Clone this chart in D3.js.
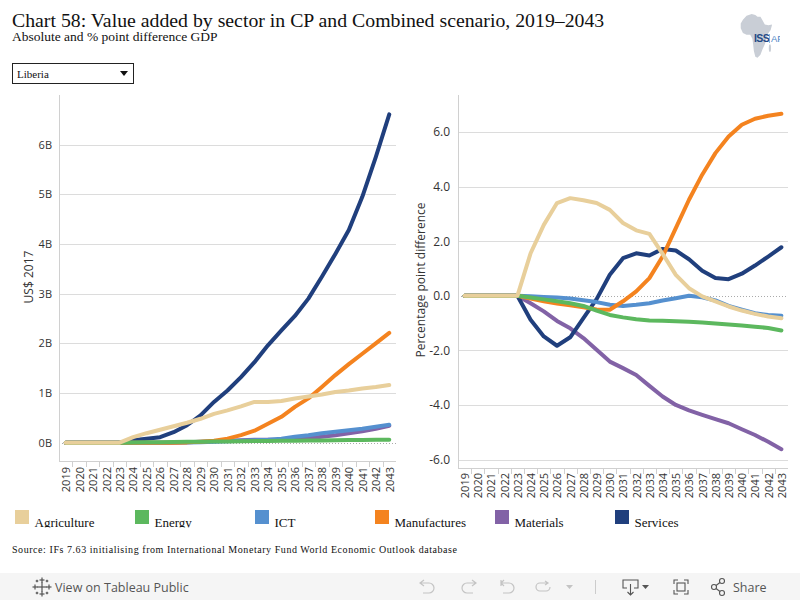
<!DOCTYPE html>
<html>
<head>
<meta charset="utf-8">
<script src="https://cdn.jsdelivr.net/npm/d3@7"></script>
<style>
  html, body { margin: 0; padding: 0; background: #fff; }
  svg { display: block; }
</style>
</head>
<body>
<svg id="chart" width="800" height="600"></svg>
<script>
// ---------------- DATA ----------------
const years = [2019,2020,2021,2022,2023,2024,2025,2026,2027,2028,2029,2030,2031,2032,2033,2034,2035,2036,2037,2038,2039,2040,2041,2042,2043];
const sectors = ["Agriculture","Energy","ICT","Manufactures","Materials","Services"];
const sectorColors = ["#e8cf9b","#5cb85e","#5590cf","#f4831f","#8262a6","#203f7d"];

// Left panel: absolute difference, billion US$ 2017
const absAgriculture  = [0,0,0,0,0,0.11,0.19,0.26,0.33,0.40,0.48,0.58,0.65,0.73,0.82,0.82,0.84,0.89,0.93,0.97,1.02,1.05,1.09,1.12,1.16];
const absEnergy       = [0,0,0,0,0,0.005,0.008,0.01,0.013,0.016,0.019,0.022,0.025,0.028,0.031,0.034,0.036,0.039,0.042,0.045,0.048,0.051,0.054,0.057,0.06];
const absICT          = [0,0,0,0,0,0,0,0,0,0.005,0.01,0.02,0.03,0.04,0.05,0.06,0.08,0.12,0.15,0.19,0.22,0.25,0.28,0.32,0.36];
const absManufactures = [0,0,0,0,0,0,0,0,0,0.005,0.02,0.04,0.08,0.15,0.24,0.38,0.52,0.72,0.89,1.12,1.36,1.58,1.79,2.0,2.21];
const absMaterials    = [0,0,0,0,0,0,0,0,0,0.01,0.02,0.03,0.04,0.05,0.06,0.06,0.06,0.07,0.09,0.12,0.15,0.19,0.23,0.28,0.34];
const absServices     = [0,0,0,0,0,0.05,0.08,0.11,0.21,0.35,0.55,0.82,1.05,1.32,1.62,1.96,2.26,2.55,2.90,3.34,3.80,4.28,4.95,5.75,6.61];

// Right panel: percentage point difference
const ppAgriculture  = [0,0,0,0,0,1.56,2.60,3.40,3.58,3.50,3.40,3.15,2.67,2.40,2.27,1.54,0.77,0.28,-0.02,-0.20,-0.39,-0.54,-0.66,-0.76,-0.82];
const ppEnergy       = [0,0,0,0,0,-0.06,-0.13,-0.20,-0.27,-0.37,-0.54,-0.70,-0.79,-0.86,-0.90,-0.91,-0.93,-0.95,-0.98,-1.01,-1.05,-1.09,-1.13,-1.18,-1.27];
const ppICT          = [0,0,0,0,0,-0.02,-0.04,-0.06,-0.10,-0.16,-0.23,-0.33,-0.37,-0.33,-0.27,-0.17,-0.09,0.0,-0.05,-0.17,-0.37,-0.51,-0.64,-0.70,-0.73];
const ppManufactures = [0,0,0,0,0,-0.10,-0.20,-0.28,-0.35,-0.42,-0.50,-0.51,-0.20,0.16,0.65,1.44,2.48,3.52,4.44,5.23,5.84,6.27,6.49,6.60,6.67];
const ppMaterials    = [0,0,0,0,0,-0.27,-0.57,-0.92,-1.19,-1.55,-1.98,-2.41,-2.65,-2.90,-3.30,-3.69,-4.00,-4.20,-4.36,-4.52,-4.67,-4.89,-5.10,-5.35,-5.62];
const ppServices     = [0,0,0,0,0,-0.88,-1.49,-1.83,-1.52,-0.82,-0.12,0.77,1.38,1.56,1.48,1.72,1.66,1.34,0.92,0.65,0.61,0.81,1.11,1.44,1.78];

const leftTicks  = [0,1,2,3,4,5,6];
const leftTickLabels = ["0B","1B","2B","3B","4B","5B","6B"];
const rightTicks = [-6,-4,-2,0,2,4,6];
const rightTickLabels = ["-6.0","-4.0","-2.0","0.0","2.0","4.0","6.0"];

const absSeries = [absAgriculture, absEnergy, absICT, absManufactures, absMaterials, absServices];
const ppSeries  = [ppAgriculture, ppEnergy, ppICT, ppManufactures, ppMaterials, ppServices];
// draw order (bottom -> top)
const drawOrder = [4, 5, 2, 3, 1, 0];

// ---------------- DRAW ----------------
const svg = d3.select("#chart");
const sansFont = "'Open Sans', 'Noto Sans', sans-serif";
const serifFont = "'Liberation Serif', 'Times New Roman', serif";
const defs = svg.append("defs");

// Title
svg.append("text").attr("x", 12).attr("y", 27)
  .attr("font-family", serifFont).attr("font-size", 19.8).attr("fill", "#111")
  .text("Chart 58: Value added by sector in CP and Combined scenario, 2019–2043");
svg.append("text").attr("x", 12).attr("y", 41)
  .attr("font-family", serifFont).attr("font-size", 13.5).attr("fill", "#111")
  .text("Absolute and % point difference GDP");

// Logo (image area clipped at its right edge like the reference)
defs.append("clipPath").attr("id", "logoclip")
  .append("rect").attr("x", 730).attr("y", 5).attr("width", 50).attr("height", 60);
const logoG = svg.append("g").attr("clip-path", "url(#logoclip)");
const logo = logoG.append("g").attr("transform", "translate(740,13) scale(0.73,0.95)");
logo.append("path")
  .attr("d", "M9,3 L16,1 L21,2 L24,4 L28,4 L31,8 L34,12 L39,13 L44,12 L42,18 L38,22 L36,28 L34,33 L31,38 L28,44 L24,47 L21,46 L19,40 L18,33 L17,27 L14,23 L9,23 L4,21 L1,16 L1,11 L4,7 Z")
  .attr("fill", "#c9ced6");
logo.append("ellipse").attr("cx", 41).attr("cy", 37).attr("rx", 1.5).attr("ry", 4).attr("fill", "#c9ced6");
logoG.append("text").attr("x", 754).attr("y", 42)
  .attr("font-family", "'Liberation Sans', Arial, sans-serif").attr("font-weight", "bold")
  .attr("font-size", 10.5).attr("fill", "#244a86").attr("letter-spacing", -0.6).text("ISS");
logoG.append("line").attr("x1", 769.5).attr("x2", 769.5).attr("y1", 34).attr("y2", 43)
  .attr("stroke", "#6fa0d6").attr("stroke-width", 0.8);
logoG.append("text").attr("x", 771).attr("y", 42)
  .attr("font-family", "'Liberation Sans', Arial, sans-serif")
  .attr("font-size", 9.5).attr("fill", "#4e86c6").text("AFRICA");

// Dropdown
svg.append("rect").attr("x", 12.5).attr("y", 63.5).attr("width", 121).attr("height", 20)
  .attr("fill", "#fff").attr("stroke", "#222").attr("stroke-width", 1);
svg.append("text").attr("x", 17).attr("y", 78)
  .attr("font-family", serifFont).attr("font-size", 11).attr("fill", "#111").text("Liberia");
svg.append("path").attr("d", "M120,71 L128,71 L124,76 Z").attr("fill", "#111");

function panel(cfg) {
  const g = svg.append("g");
  const x = d3.scalePoint().domain(years).range([cfg.x0, cfg.x1]).padding(0.5);
  const y = d3.scaleLinear().domain(cfg.domain).range([cfg.y1, cfg.y0]);
  const step = x.step();

  // gridlines (non-zero)
  g.append("g").selectAll("line").data(cfg.ticks.filter(d => d !== 0)).join("line")
    .attr("x1", cfg.x0).attr("x2", cfg.x1)
    .attr("y1", d => Math.round(y(d)) + 0.5).attr("y2", d => Math.round(y(d)) + 0.5)
    .attr("stroke", "#dcdcdc").attr("stroke-width", 1);

  // zero line dotted
  g.append("line").attr("x1", cfg.x0).attr("x2", cfg.x1)
    .attr("y1", Math.round(y(0)) + 0.5).attr("y2", Math.round(y(0)) + 0.5)
    .attr("stroke", "#aaa").attr("stroke-width", 1).attr("stroke-dasharray", "1,2");

  // axis lines
  g.append("line").attr("x1", cfg.x0 + 0.5).attr("x2", cfg.x0 + 0.5)
    .attr("y1", cfg.y0).attr("y2", cfg.y1).attr("stroke", "#d0d0d0");
  g.append("line").attr("x1", cfg.x0).attr("x2", cfg.x1)
    .attr("y1", cfg.y1 + 0.5).attr("y2", cfg.y1 + 0.5).attr("stroke", "#d0d0d0");

  // y axis labels
  const yAxis = d3.axisLeft(y).tickValues(cfg.ticks)
    .tickFormat((d, i) => cfg.tickLabels[i]).tickSize(0).tickPadding(0);
  const ya = g.append("g").attr("transform", `translate(${cfg.labelX},0)`).call(yAxis);
  ya.select(".domain").remove();
  ya.selectAll("text").attr("font-family", sansFont).attr("font-size", cfg.yFont).attr("fill", "#333");

  // x axis
  const xAxis = d3.axisBottom(x).tickSize(0).tickPadding(0);
  const xa = g.append("g").attr("transform", `translate(0,${cfg.y1})`).call(xAxis);
  xa.select(".domain").remove();
  xa.selectAll("text")
    .attr("font-family", sansFont).attr("font-size", 11).attr("fill", "#333")
    .attr("transform", "rotate(-90)")
    .attr("text-anchor", "end")
    .attr("x", -cfg.xLabelGap).attr("y", 0).attr("dy", "0.35em");
  // tick marks at band boundaries
  g.append("g").selectAll("line").data(years.slice(0, -1)).join("line")
    .attr("x1", d => Math.round(x(d) + step / 2) + 0.5)
    .attr("x2", d => Math.round(x(d) + step / 2) + 0.5)
    .attr("y1", cfg.y1).attr("y2", cfg.y1 + 6)
    .attr("stroke", "#d0d0d0");

  // axis title
  g.append("text")
    .attr("transform", `translate(${cfg.titleX},${cfg.titleY}) rotate(-90)`)
    .attr("text-anchor", "middle")
    .attr("font-family", sansFont).attr("font-size", 12).attr("fill", "#333")
    .text(cfg.title);

  // lines
  const line = d3.line().x((d, i) => x(years[i])).y(d => y(d));
  g.append("g").selectAll("path").data(drawOrder).join("path")
    .attr("d", k => line(cfg.series[k]))
    .attr("fill", "none")
    .attr("stroke", k => sectorColors[k])
    .attr("stroke-width", 4)
    .attr("stroke-linejoin", "round")
    .attr("stroke-linecap", "round");
}

panel({
  x0: 59, x1: 396, y0: 95, y1: 461,
  domain: [-0.37, 7.0],
  ticks: leftTicks, tickLabels: leftTickLabels,
  labelX: 52, yFont: 11, xLabelGap: 6,
  title: "US$ 2017", titleX: 33, titleY: 277,
  series: absSeries
});

panel({
  x0: 458, x1: 788, y0: 95, y1: 468,
  domain: [-6.31, 7.36],
  ticks: rightTicks, tickLabels: rightTickLabels,
  labelX: 450, yFont: 12, xLabelGap: 5,
  title: "Percentage point difference", titleX: 425, titleY: 280,
  series: ppSeries
});

// Legend
defs.append("clipPath").attr("id", "legclip")
  .append("rect").attr("x", 0).attr("y", 500).attr("width", 800).attr("height", 27.5);
const leg = svg.append("g").attr("clip-path", "url(#legclip)");
const legItems = leg.selectAll("g").data(sectors).join("g")
  .attr("transform", (d, i) => `translate(${15 + i * 120},510)`);
legItems.append("rect").attr("width", 14).attr("height", 14)
  .attr("fill", (d, i) => sectorColors[i]);
legItems.append("text").attr("x", 19.5).attr("y", 17)
  .attr("font-family", serifFont).attr("font-size", 13).attr("fill", "#111")
  .text(d => d);

// Source
svg.append("text").attr("x", 12).attr("y", 553)
  .attr("font-family", serifFont).attr("font-size", 10).attr("fill", "#111")
  .attr("textLength", 445).attr("lengthAdjust", "spacing")
  .text("Source: IFs 7.63 initialising from International Monetary Fund World Economic Outlook database");

// Toolbar
svg.append("rect").attr("x", 0).attr("y", 573).attr("width", 800).attr("height", 27).attr("fill", "#f5f5f5");
const tb = svg.append("g").attr("stroke", "#555").attr("fill", "none").attr("stroke-width", 1.1);
// tableau logo
const tl = svg.append("g").attr("stroke", "#555").attr("stroke-width", 1.2);
[[42,587,5],[42,580,2.5],[42,594,2.5],[35,587,2.5],[49,587,2.5],[37,581,1.3],[47,581,1.3],[37,593,1.3],[47,593,1.3]].forEach(([cx,cy,r]) => {
  tl.append("line").attr("x1", cx - r).attr("x2", cx + r).attr("y1", cy).attr("y2", cy);
  tl.append("line").attr("x1", cx).attr("x2", cx).attr("y1", cy - r).attr("y2", cy + r);
});
svg.append("text").attr("x", 55).attr("y", 591.5)
  .attr("font-family", sansFont).attr("font-size", 12.5).attr("fill", "#555")
  .text("View on Tableau Public");
const lt = svg.append("g").attr("stroke", "#c4c4c4").attr("fill", "none").attr("stroke-width", 1.2);
lt.append("path").attr("d", "M424,580 L420,583 L424,586 M420,583 L429,583 A5,5 0 0 1 429,593 L423,593");
lt.append("path").attr("d", "M472,580 L476,583 L472,586 M476,583 L467,583 A5,5 0 0 0 467,593 L473,593");
lt.append("path").attr("d", "M501,580 L501,586 M504,580 L501,583 L504,586 M501,583 L509,583 A5,5 0 0 1 509,593 L503,593");
lt.append("path").attr("d", "M545,581 L548,583 L545,585 M548,583 L540,583 A4,4 0 0 0 540,591 L546,591 A4,4 0 0 0 550,587");
svg.append("path").attr("d", "M566,585 L573,585 L569.5,589 Z").attr("fill", "#c4c4c4");
svg.append("line").attr("x1", 595.5).attr("x2", 595.5).attr("y1", 580).attr("y2", 594).attr("stroke", "#ccc");
tb.append("path").attr("d", "M627,588 L623,588 L623,580 L638,580 L638,588 L634,588 M630.5,584 L630.5,595 M627.5,592 L630.5,595 L633.5,592");
svg.append("path").attr("d", "M642,585 L649,585 L645.5,589 Z").attr("fill", "#555");
tb.append("path").attr("d", "M674,584 L674,580 L678,580 M684,580 L688,580 L688,584 M688,590 L688,594 L684,594 M678,594 L674,594 L674,590");
tb.append("rect").attr("x", 677).attr("y", 583).attr("width", 8).attr("height", 8);
tb.append("circle").attr("cx", 714).attr("cy", 587).attr("r", 2.5);
tb.append("circle").attr("cx", 722).attr("cy", 581).attr("r", 2.5);
tb.append("circle").attr("cx", 722).attr("cy", 593).attr("r", 2.5);
tb.append("path").attr("d", "M716,585.5 L720,582.5 M716,588.5 L720,591.5");
svg.append("text").attr("x", 733).attr("y", 591.5)
  .attr("font-family", sansFont).attr("font-size", 12.5).attr("fill", "#555")
  .text("Share");
</script>
</body>
</html>
